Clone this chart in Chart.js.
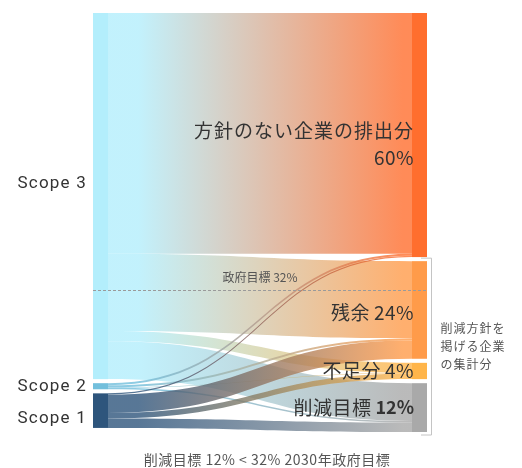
<!DOCTYPE html>
<html>
<head>
<meta charset="utf-8">
<script src="https://cdn.jsdelivr.net/npm/chart.js@4.4.1/dist/chart.umd.min.js"></script>
<style>
  body { margin: 0; background: #fff; }
</style>
</head>
<body>
<canvas id="chart" width="522" height="468"></canvas>
<script>
// data
const sources = ["Scope 3", "Scope 2", "Scope 1"];
const targets = ["方針のない企業の排出分", "残余", "不足分", "削減目標"];
const targetShares = [60, 24, 4, 12];
// flow from each scope into the targets above (same order)
const fromScope3 = [59.2, 19, 2.5, 9.3];
const fromScope2 = [0.5, 0.5, 0.1, 0.4];
const fromScope1 = [0.3, 4.5, 1.4, 2.3];
const govTarget = 32;
const caption = "削減目標 12% < 32% 2030年政府目標";
const bracketNote = ["削減方針を", "掲げる企業", "の集計分"];

const flows = [fromScope3, fromScope2, fromScope1];
const sourceColors = ["#b3eefc", "#72bfdc", "#2e557c"];
const targetColors = ["#ff6e2e", "#ff9b4a", "#ffb54a", "#a9a9a9"];
const gap = 1;

const total = targetShares.reduce((a, b) => a + b, 0);
const srcTotals = flows.map(f => f.reduce((a, b) => a + b, 0));

function stack(values) {
  let y = 0;
  return values.map(v => { const n = { y0: y, y1: y + v }; y += v + gap; return n; });
}
const srcNodes = stack(srcTotals);
const tgtNodes = stack(targetShares);

const jp = '"Noto Sans CJK JP", "Noto Sans", sans-serif';

const sankey = {
  id: "sankey",
  afterDatasetsDraw(chart) {
    const ctx = chart.ctx, x = chart.scales.x, y = chart.scales.y;
    const nw = 15;
    const xl = x.getPixelForValue(0), xr = x.getPixelForValue(1);
    const x0 = xl + nw, x1 = xr - nw, xm = (x0 + x1) / 2;

    // links
    const tOff = tgtNodes.map(n => n.y0);
    flows.forEach((row, s) => {
      let sOff = srcNodes[s].y0;
      row.forEach((v, t) => {
        const a0 = y.getPixelForValue(sOff), a1 = y.getPixelForValue(sOff + v);
        const b0 = y.getPixelForValue(tOff[t]), b1 = y.getPixelForValue(tOff[t] + v);
        sOff += v; tOff[t] += v;
        const g = ctx.createLinearGradient(x0, 0, x1, 0);
        g.addColorStop(0.1, sourceColors[s]);
        g.addColorStop(0.97, targetColors[t]);
        ctx.save();
        ctx.globalAlpha = 0.8;
        ctx.fillStyle = g;
        ctx.beginPath();
        ctx.moveTo(x0, a0);
        ctx.bezierCurveTo(xm, a0, xm, b0, x1, b0);
        ctx.lineTo(x1, b1);
        ctx.bezierCurveTo(xm, b1, xm, a1, x0, a1);
        ctx.closePath();
        ctx.fill();
        ctx.restore();
      });
    });

    // nodes
    srcNodes.forEach((n, i) => {
      ctx.fillStyle = sourceColors[i];
      ctx.fillRect(xl, y.getPixelForValue(n.y0), nw, y.getPixelForValue(n.y1) - y.getPixelForValue(n.y0));
    });
    tgtNodes.forEach((n, i) => {
      ctx.fillStyle = targetColors[i];
      ctx.fillRect(x1, y.getPixelForValue(n.y0), nw, y.getPixelForValue(n.y1) - y.getPixelForValue(n.y0));
    });

    // government target line
    const gy = Math.round(y.getPixelForValue(total - govTarget)) + 0.5;
    ctx.save();
    ctx.strokeStyle = "#9a9a9a";
    ctx.lineWidth = 1;
    ctx.setLineDash([3, 2]);
    ctx.beginPath(); ctx.moveTo(xl, gy); ctx.lineTo(xr, gy); ctx.stroke();
    ctx.restore();
    ctx.fillStyle = "#555";
    ctx.font = "12px " + jp;
    ctx.textAlign = "center";
    ctx.textBaseline = "middle";
    ctx.fillText("政府目標 " + govTarget + "%", (xl + xr) / 2, gy - 13);

    // source labels
    const shift = [-12, 1, 8];
    ctx.save();
    ctx.fillStyle = "#333";
    ctx.font = '17px Roboto, "Noto Sans", sans-serif';
    ctx.letterSpacing = "1.2px";
    ctx.textAlign = "right";
    srcNodes.forEach((n, i) => {
      const cy = (y.getPixelForValue(n.y0) + y.getPixelForValue(n.y1)) / 2 + shift[i];
      ctx.fillText(sources[i], xl - 6, cy);
    });
    ctx.restore();

    // target labels
    ctx.save();
    ctx.fillStyle = "#333";
    ctx.textAlign = "right";
    const lx = x1 + 2;
    tgtNodes.forEach((n, i) => {
      const cy = (y.getPixelForValue(n.y0) + y.getPixelForValue(n.y1)) / 2;
      const pct = targetShares[i] + "%";
      const last = i === targets.length - 1;
      ctx.letterSpacing = last ? "0px" : "0.5px";
      ctx.font = last ? "bold 18px " + jp : "19px " + jp;
      const ly = i === 0 ? cy + 23 : (i === 1 ? cy + 3 : cy);
      ctx.fillText(pct, lx, ly);
      const w = ctx.measureText(pct).width;
      ctx.font = "19px " + jp;
      ctx.letterSpacing = i === 0 ? "1px" : "0.5px";
      if (i === 0) ctx.fillText(targets[i], lx, cy - 4);
      else ctx.fillText(targets[i], lx - w - 4, ly);
    });
    ctx.restore();

    // bracket around the companies with a reduction policy
    const by0 = y.getPixelForValue(tgtNodes[1].y0) - 3;
    const by1 = y.getPixelForValue(tgtNodes[tgtNodes.length - 1].y1) + 3;
    const bx = xr + 4.5;
    ctx.save();
    ctx.strokeStyle = "#c4c4c4";
    ctx.lineWidth = 1;
    ctx.beginPath();
    ctx.moveTo(xr - 6, by0); ctx.lineTo(bx, by0); ctx.lineTo(bx, by1); ctx.lineTo(xr - 6, by1);
    ctx.stroke();
    ctx.restore();
    ctx.save();
    ctx.fillStyle = "#555";
    ctx.font = "12px " + jp;
    ctx.letterSpacing = "1px";
    ctx.textAlign = "left";
    const my = (by0 + by1) / 2;
    bracketNote.forEach((t, i) => ctx.fillText(t, bx + 9, my - 18 + i * 18));
    ctx.restore();

    // caption
    ctx.save();
    ctx.fillStyle = "#555";
    ctx.font = "14px " + jp;
    ctx.letterSpacing = "0.5px";
    ctx.textAlign = "center";
    ctx.fillText(caption, 267, chart.height - 8);
    ctx.restore();
  }
};

new Chart(document.getElementById("chart").getContext("2d"), {
  type: "scatter",
  data: { datasets: [] },
  options: {
    responsive: false,
    animation: false,
    layout: { padding: { left: 93, right: 95, top: 13, bottom: 36 } },
    scales: {
      x: { type: "linear", min: 0, max: 1, display: false },
      y: { type: "linear", min: 0, max: total + gap * (targets.length - 1), reverse: true, display: false }
    },
    plugins: { legend: { display: false }, tooltip: { enabled: false } }
  },
  plugins: [sankey]
});
</script>
</body>
</html>
